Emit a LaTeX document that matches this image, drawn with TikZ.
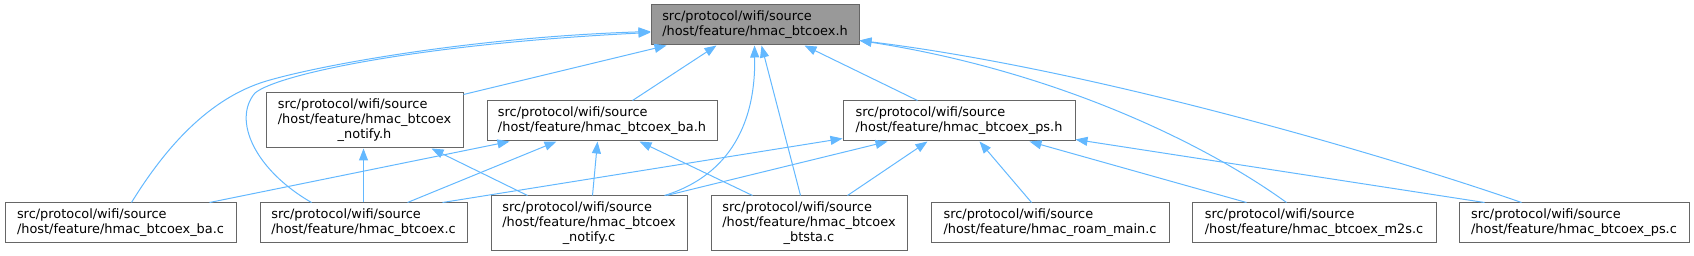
\documentclass[tikz,border=0pt]{standalone}
\usepackage{fontspec}
\setmainfont{DejaVu Sans}
\usetikzlibrary{arrows.meta}
\definecolor{edgeblue}{HTML}{63B8FF}
\definecolor{boxgray}{HTML}{666666}
\definecolor{rootfill}{HTML}{999999}
\newcommand{\twoline}[2]{\begin{tabular}{@{}l@{}}#1\\#2\end{tabular}}
\newcommand{\threeline}[3]{\begin{tabular}{@{}l@{}}#1\\#2\\\multicolumn{1}{@{}c@{}}{#3}\end{tabular}}
\begin{document}
\begin{tikzpicture}[x=1pt,y=-1pt,
  box/.style={draw=boxgray, fill=white, line width=1pt, inner sep=0pt,
    font=\fontsize{12.9}{15}\selectfont},
  rootbox/.style={box, fill=rootfill},
  edge/.style={draw=edgeblue, line width=1pt, -{Triangle[length=12pt,width=9pt]}}]
\useasboundingbox (0,0) rectangle (1694,256);
% nodes
\node[rootbox, minimum width=208pt, minimum height=40pt] (root) at (755,25)
  {\twoline{src/protocol/wifi/source}{/host/feature/hmac\_btcoex.h}};
\node[box, minimum width=197pt, minimum height=55pt] (nh) at (364.5,120.5)
  {\threeline{src/protocol/wifi/source}{/host/feature/hmac\_btcoex}{\_notify.h}};
\node[box, minimum width=230pt, minimum height=40pt] (bah) at (602,121)
  {\twoline{src/protocol/wifi/source}{/host/feature/hmac\_btcoex\_ba.h}};
\node[box, minimum width=232pt, minimum height=40pt] (psh) at (959,121)
  {\twoline{src/protocol/wifi/source}{/host/feature/hmac\_btcoex\_ps.h}};
\node[box, minimum width=231pt, minimum height=40pt] (bac) at (120.5,223)
  {\twoline{src/protocol/wifi/source}{/host/feature/hmac\_btcoex\_ba.c}};
\node[box, minimum width=207pt, minimum height=40pt] (btc) at (363.5,223)
  {\twoline{src/protocol/wifi/source}{/host/feature/hmac\_btcoex.c}};
\node[box, minimum width=196pt, minimum height=55pt] (ntc) at (589,223.5)
  {\threeline{src/protocol/wifi/source}{/host/feature/hmac\_btcoex}{\_notify.c}};
\node[box, minimum width=196pt, minimum height=55pt] (bts) at (809,223.5)
  {\threeline{src/protocol/wifi/source}{/host/feature/hmac\_btcoex}{\_btsta.c}};
\node[box, minimum width=238pt, minimum height=40pt] (roam) at (1050,223)
  {\twoline{src/protocol/wifi/source}{/host/feature/hmac\_roam\_main.c}};
\node[box, minimum width=244pt, minimum height=40pt] (m2s) at (1314,223)
  {\twoline{src/protocol/wifi/source}{/host/feature/hmac\_btcoex\_m2s.c}};
\node[box, minimum width=230pt, minimum height=40pt] (psc) at (1574,223)
  {\twoline{src/protocol/wifi/source}{/host/feature/hmac\_btcoex\_ps.c}};
% edges to root
\draw[edge] ([yshift=-2pt]nh.north east) -- ([xshift=16pt]root.south west);
\draw[edge] ([xshift=146pt]bah.north west) -- ([xshift=66pt]root.south west);
\draw[edge] ([xshift=75pt]psh.north west) -- ([xshift=154pt]root.south west);
\draw[edge] ([xshift=127pt]bac.north west) .. controls (170,140) and (215,95) .. (270,80)
  .. controls (330,63) and (480,37) .. ([yshift=-27pt]root.north west);
\draw[edge] ([xshift=52pt]btc.north west) .. controls (255,170) and (232,120) .. (255,93)
  .. controls (278,74) and (420,44) .. ([yshift=-28pt]root.north west);
\draw[edge] ([xshift=174pt]ntc.north west) .. controls (715,180) and (756,140) .. ([xshift=104pt]root.south west);
\draw[edge] ([xshift=90pt]bts.north west) -- ([xshift=111pt]root.south west);
\draw[edge] ([xshift=95pt]m2s.north west) .. controls (1200,140) and (1050,70) .. ([yshift=5pt]root.south east);
\draw[edge] ([xshift=63pt]psc.north west) .. controls (1400,160) and (1100,70) .. ([yshift=5pt]root.south east);
% edges to notify.h
\draw[edge] ([xshift=104pt]btc.north west) -- ([xshift=98pt]nh.south west);
\draw[edge] ([xshift=37pt]ntc.north west) -- ([xshift=166pt]nh.south west);
% edges to ba.h
\draw[edge] ([xshift=205pt]bac.north west) -- ([xshift=23pt]bah.south west);
\draw[edge] ([xshift=148pt]btc.north west) -- ([xshift=70pt]bah.south west);
\draw[edge] ([xshift=102pt]ntc.north west) -- ([xshift=111pt]bah.south west);
\draw[edge] ([xshift=42pt]bts.north west) -- ([xshift=153pt]bah.south west);
% edges to ps.h
\draw[edge] ([xshift=183pt]btc.north west) -- ([yshift=3pt]psh.south west);
\draw[edge] ([xshift=176pt]ntc.north west) -- ([xshift=45pt]psh.south west);
\draw[edge] ([xshift=137pt]bts.north west) -- ([xshift=85pt]psh.south west);
\draw[edge] ([xshift=101pt]roam.north west) -- ([xshift=137pt]psh.south west);
\draw[edge] ([xshift=55pt]m2s.north west) -- ([xshift=187pt]psh.south west);
\draw[edge] ([xshift=26pt]psc.north west) -- ([yshift=2pt]psh.south east);
\end{tikzpicture}
\end{document}
